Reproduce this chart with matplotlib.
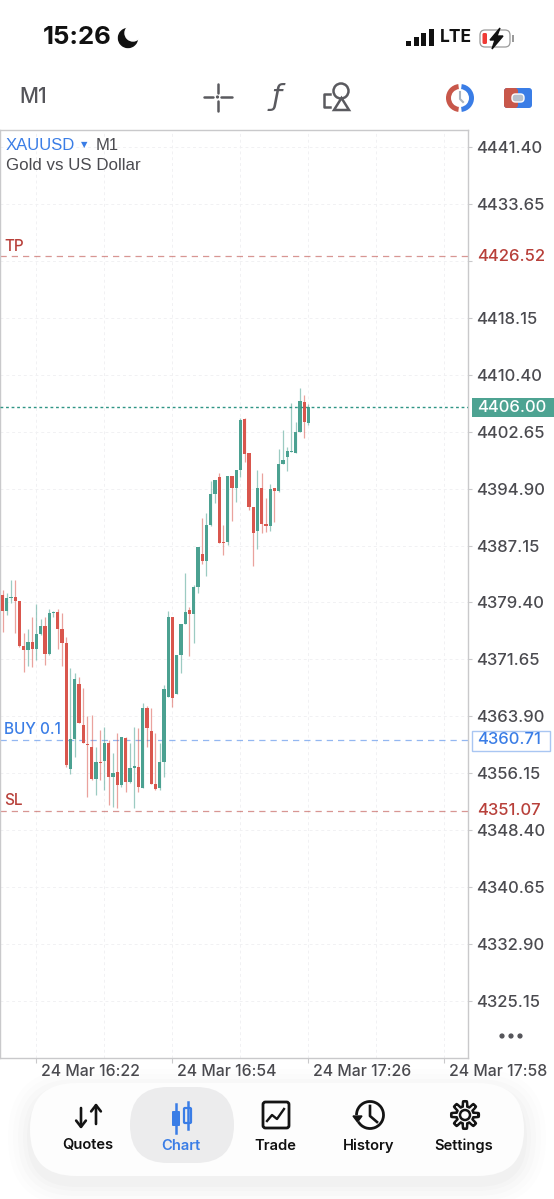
import numpy as np
import matplotlib
matplotlib.use('Agg')
import matplotlib.pyplot as plt
from matplotlib.patches import Circle, FancyBboxPatch, Polygon, Rectangle, Wedge, Arc
from matplotlib.transforms import ScaledTranslation

# candle data, one row per minute
opens = [4380.46, 4378.19, 4379.96, 4380.10, 4379.65, 4373.48, 4372.93, 4374.02, 4373.07, 4375.11,
         4376.20, 4372.39, 4377.92, 4378.10, 4375.75, 4373.84, 4356.78, 4360.86, 4368.35, 4362.77,
         4360.14, 4359.78, 4355.33, 4357.69, 4357.78, 4360.23, 4355.69, 4356.33, 4354.56, 4360.91,
         4354.97, 4356.87, 4357.05, 4354.15, 4365.04, 4361.95, 4354.69, 4354.10, 4357.73, 4366.58,
         4377.47, 4366.90, 4372.25, 4376.42, 4378.37, 4377.79, 4381.46, 4386.00, 4385.00, 4389.94,
         4394.16, 4396.52, 4387.63, 4387.59, 4396.66, 4394.98, 4397.43, 4404.33, 4399.70, 4392.44,
         4389.17, 4395.03, 4390.08, 4389.85, 4394.93, 4394.57, 4398.25, 4399.15, 4399.93, 4399.79,
         4402.56, 4406.64, 4403.87]
highs = [4381.10, 4380.65, 4382.46, 4382.46, 4379.65, 4375.29, 4375.75, 4377.38, 4379.19, 4377.11,
         4377.47, 4378.47, 4378.29, 4378.47, 4377.92, 4374.75, 4370.44, 4369.85, 4369.30, 4367.71,
         4363.95, 4364.09, 4359.78, 4362.04, 4362.50, 4360.68, 4358.87, 4361.59, 4361.05, 4361.05,
         4360.23, 4362.50, 4362.27, 4365.76, 4365.31, 4365.00, 4361.59, 4360.23, 4368.17, 4378.29,
         4377.47, 4372.25, 4376.42, 4383.37, 4378.83, 4381.78, 4386.99, 4390.85, 4391.53, 4395.98,
         4396.07, 4396.98, 4389.94, 4396.66, 4396.66, 4397.43, 4404.46, 4404.46, 4399.70, 4392.44,
         4397.43, 4396.98, 4393.57, 4395.52, 4394.93, 4400.24, 4402.87, 4400.61, 4406.59, 4404.01,
         4408.55, 4407.64, 4406.41]
lows = [4375.43, 4377.70, 4379.28, 4375.29, 4373.39, 4369.98, 4370.76, 4370.57, 4371.57, 4374.97,
        4370.89, 4372.25, 4377.47, 4373.02, 4370.76, 4357.05, 4356.05, 4358.41, 4362.95, 4360.23,
        4352.97, 4355.24, 4353.20, 4355.24, 4353.88, 4351.84, 4351.61, 4351.38, 4354.33, 4353.65,
        4354.78, 4351.38, 4353.65, 4354.10, 4359.78, 4354.69, 4353.88, 4353.88, 4355.69, 4366.49,
        4365.13, 4366.90, 4369.80, 4376.40, 4372.11, 4373.93, 4380.64, 4384.64, 4383.00, 4389.85,
        4392.98, 4387.45, 4385.86, 4387.22, 4390.53, 4393.12, 4396.43, 4398.56, 4391.99, 4384.36,
        4386.63, 4388.81, 4389.04, 4389.17, 4390.40, 4394.48, 4398.25, 4397.34, 4399.93, 4399.70,
        4402.56, 4401.74, 4403.56]
closes = [4378.19, 4379.96, 4380.10, 4379.56, 4373.48, 4372.93, 4374.02, 4373.07, 4375.11, 4376.20,
          4372.39, 4378.01, 4378.10, 4375.84, 4373.84, 4357.23, 4360.86, 4368.94, 4363.04, 4360.32,
          4359.96, 4355.33, 4357.73, 4357.55, 4360.23, 4355.69, 4356.24, 4354.56, 4361.05, 4354.97,
          4356.87, 4357.10, 4354.33, 4365.04, 4362.32, 4354.69, 4353.97, 4357.73, 4367.62, 4377.47,
          4366.35, 4372.25, 4376.42, 4378.15, 4377.83, 4381.46, 4386.99, 4385.00, 4389.94, 4394.16,
          4396.07, 4387.54, 4387.45, 4396.66, 4394.98, 4397.43, 4404.24, 4399.61, 4392.39, 4388.90,
          4395.03, 4390.08, 4389.85, 4394.84, 4394.53, 4398.25, 4398.79, 4399.97, 4400.06, 4402.56,
          4406.78, 4403.92, 4406.00]

price_ticks = [4441.40, 4433.65, 4425.90, 4418.15, 4410.40, 4402.65, 4394.90, 4387.15,
               4379.40, 4371.65, 4363.90, 4356.15, 4348.40, 4340.65, 4332.90, 4325.15]
price_labels = ['4441.40', '4433.65', '', '4418.15', '4410.40', '4402.65', '4394.90', '4387.15',
                '4379.40', '4371.65', '4363.90', '4356.15', '4348.40', '4340.65', '4332.90', '4325.15']
time_labels = ['24 Mar 16:22', '24 Mar 16:54', '24 Mar 17:26', '24 Mar 17:58']
tp_price = 4426.52
sl_price = 4351.07
buy_price = 4360.71
last_price = 4406.00
tab_names = ['Quotes', 'Chart', 'Trade', 'History', 'Settings']

GREEN = '#4ba191'
RED = '#d9564d'
DARKRED = '#b8403a'
BLUE = '#3a7de6'
GREY = '#4b4b50'
plt.rcParams['font.family'] = ['Inter', 'DejaVu Sans']

fig = plt.figure(figsize=(5.54, 11.99), dpi=100, facecolor='white')
W, H = 554, 1199

# main chart, x is minutes after 16:22
ax = fig.add_axes([0, (H - 1058) / H, 468 / W, 928 / H])
minutes = np.arange(len(opens)) - 8
ax.set_xlim(-36.5 / 4.25, (468 - 36.5) / 4.25)
ax.set_ylim(4441.40 - (1058 - 147) / 7.346, 4441.40 + 17 / 7.346)

for spine in ax.spines.values():
    spine.set_color('#c9c9cb')
    spine.set_linewidth(1.0)

ax.set_axisbelow(True)
for m in np.arange(0, 112, 16):
    ax.axvline(m, color='#f1f1f3', lw=0.7, ls=(0, (3, 3)), zorder=0)
for p in price_ticks:
    ax.axhline(p, color='#f1f1f3', lw=0.7, ls=(0, (3, 3)), zorder=0)

colors = [GREEN if c >= o else RED for o, c in zip(opens, closes)]
ax.vlines(minutes, lows, highs, colors=colors, lw=0.9, alpha=0.55, zorder=2)
bottoms = np.minimum(opens, closes)
heights = np.maximum(np.abs(np.array(closes) - np.array(opens)), 0.15)
ax.bar(minutes, heights, bottom=bottoms, width=0.8, color=colors, zorder=3)

ax.axhline(tp_price, color=DARKRED, lw=0.9, alpha=0.55, ls=(0, (5, 4)), zorder=1)
ax.axhline(sl_price, color=DARKRED, lw=0.9, alpha=0.55, ls=(0, (5, 4)), zorder=1)
ax.axhline(buy_price, color=BLUE, lw=0.9, alpha=0.55, ls=(0, (5, 4)), zorder=1)
ax.axhline(last_price, color='#2f9585', lw=1.0, ls=(0, (2, 2)), zorder=4)

ax.yaxis.tick_right()
ax.set_yticks(price_ticks)
ax.set_yticklabels(price_labels, weight='medium')
ax.tick_params(axis='y', length=3, width=0.8, color='#c9c9cb', labelcolor=GREY, labelsize=12, pad=2.5)
ax.set_xticks([0, 32, 64, 96])
ax.set_xticklabels(time_labels, weight='medium')
ax.tick_params(axis='x', length=3.5, width=0.8, color='#c9c9cb', labelcolor=GREY, labelsize=11.4, pad=1)
offset = ScaledTranslation(4.5 / 100, 0, fig.dpi_scale_trans)
for lab in ax.get_xticklabels():
    lab.set_ha('left')
    lab.set_transform(lab.get_transform() + offset)

level_x = -8.59 + 4 / 4.25
ax.text(level_x, tp_price + 1.4, 'TP', color=DARKRED, fontsize=11, weight='medium', va='center')
ax.text(level_x, buy_price + 1.4, 'BUY 0.1', color=BLUE, fontsize=11, weight='medium', va='center', zorder=5)
ax.text(level_x, sl_price + 1.4, 'SL', color=DARKRED, fontsize=11, weight='medium', va='center')

# everything else sits on a pixel overlay
ov = fig.add_axes([0, 0, 1, 1], zorder=5)
ov.set_xlim(0, W)
ov.set_ylim(H, 0)
ov.axis('off')
ov.patch.set_alpha(0)


def price_y(p):
    return 147 + (4441.40 - p) * 7.346


ov.add_patch(Rectangle((472, 398), 82, 19, color='#4da392', lw=0))
ov.text(477, price_y(last_price), '%.2f' % last_price, color='white', fontsize=12, weight='medium', va='center')
ov.add_patch(Rectangle((472, 730.5), 78, 20, fc='white', ec='#a9c6f2', lw=1))
ov.text(477, price_y(buy_price), '%.2f' % buy_price, color=BLUE, fontsize=12, weight='medium', va='center')
ov.text(477, price_y(tp_price), '%.2f' % tp_price, color=DARKRED, fontsize=12, weight='medium', va='center')
ov.text(477, price_y(sl_price), '%.2f' % sl_price, color=DARKRED, fontsize=12, weight='medium', va='center')
for dx in (502, 511, 520):
    ov.add_patch(Circle((dx, 1036), 1.9, color='#55555a'))

# chart title
ov.text(6, 145, 'XAUUSD', color=BLUE, fontsize=12, family='Liberation Sans', va='center')
ov.text(81, 145, '▼', color=BLUE, fontsize=6, family='DejaVu Sans', va='center')
ov.text(96, 145, 'M1', color=GREY, fontsize=12, family='Liberation Sans', va='center')
ov.text(6, 166, 'Gold vs US Dollar', color=GREY, fontsize=12.2, family='Liberation Sans', va='center')

# status bar
ov.text(43, 38, '15:26', color='#111111', fontsize=18.5, weight='bold', va='center')
ov.add_patch(Wedge((128, 38), 9.5, 0, 360, color='#111111'))
ov.add_patch(Circle((133, 33), 8, color='white'))
for i, h in enumerate([5, 9, 13, 17]):
    ov.add_patch(Rectangle((406 + i * 7.6, 46 - h), 5, h, color='#111111', lw=0))
ov.text(440, 38, 'LTE', color='#111111', fontsize=12.5, weight='bold', va='center')
ov.add_patch(FancyBboxPatch((480, 30), 30, 17, boxstyle='round,pad=0,rounding_size=5', fc='white', ec='#9a9a9a', lw=0.9))
ov.add_patch(FancyBboxPatch((482.5, 33), 4.5, 11, boxstyle='round,pad=0,rounding_size=1.5', fc='#ef3b36', lw=0))
ov.add_patch(Polygon([[500, 28], [490, 40], [495, 40], [492, 49], [503, 36], [497, 36]], color='#111111'))
ov.add_patch(Rectangle((512, 35), 1.5, 7, color='#9a9a9a', lw=0))

# toolbar
ov.text(19, 97, 'M1', color='#55555a', fontsize=15, weight='medium', va='center')
ico = '#5a5a5f'
for x0, y0, x1, y1 in [(204, 97, 213, 97), (221, 97, 232, 97), (217.5, 84, 217.5, 93), (217.5, 101, 217.5, 111)]:
    ov.plot([x0, x1], [y0, y1], color=ico, lw=1.8, solid_capstyle='round')
ov.add_patch(Circle((217.5, 97), 0.9, color=ico))
ov.text(277, 97, 'ƒ', color=ico, fontsize=21, family='DejaVu Sans', ha='center', va='center', style='italic')
ov.add_patch(Circle((341, 91), 7.5, fc='none', ec=ico, lw=1.8))
ov.add_patch(Polygon([[334, 110], [349, 110], [341.5, 98]], closed=True, fc='white', ec=ico, lw=1.8))
ov.plot([330, 324, 324, 330], [94, 94, 107, 107], color=ico, lw=1.8)
ov.add_patch(Wedge((460, 98), 14, 97, 263, width=5, color='#c8574a', lw=0))
ov.add_patch(Wedge((460, 98), 14, 277, 83, width=5, color=BLUE, lw=0))
ov.plot([460, 460, 463], [92, 99, 102], color='#aab4c0', lw=1.5)
ov.add_patch(FancyBboxPatch((504, 88), 28, 20, boxstyle='round,pad=0,rounding_size=3', fc=BLUE, lw=0))
ov.add_patch(FancyBboxPatch((504, 88), 14, 20, boxstyle='round,pad=0,rounding_size=3', fc='#c8574a', lw=0))
ov.add_patch(FancyBboxPatch((512, 94), 12, 8, boxstyle='round,pad=0,rounding_size=3.5', fc='#b6c0cc', ec='white', lw=1))

# tab bar with soft shadow
for grow, alpha in [(22, 0.006), (17, 0.008), (12, 0.010), (7, 0.012), (3, 0.014)]:
    ov.add_patch(FancyBboxPatch((30 - grow, 1083 - grow + 8), 494 + 2 * grow, 93 + 2 * grow,
                                boxstyle='round,pad=0,rounding_size=%d' % (46 + grow),
                                fc='black', alpha=alpha, lw=0))
ov.add_patch(FancyBboxPatch((30, 1083), 494, 93, boxstyle='round,pad=0,rounding_size=46', fc='#fdfdfd', lw=0))
ov.add_patch(FancyBboxPatch((130, 1087), 104, 76, boxstyle='round,pad=0,rounding_size=38', fc='#ececed', lw=0))

tab_x = [88, 181, 275, 369, 464]
for name, tx in zip(tab_names, tab_x):
    ov.text(tx, 1145.5, name, color=BLUE if name == 'Chart' else '#111111', fontsize=10.6,
            weight='semibold', ha='center', va='center')

ink = '#141414'
# quotes icon
ov.annotate('', xy=(81, 1129), xytext=(81, 1108), arrowprops=dict(arrowstyle='->,head_width=0.35,head_length=0.45', color=ink, lw=1.9, shrinkA=0, shrinkB=0))
ov.annotate('', xy=(96, 1103), xytext=(96, 1124), arrowprops=dict(arrowstyle='->,head_width=0.35,head_length=0.45', color=ink, lw=1.9, shrinkA=0, shrinkB=0))
# chart icon
ov.plot([176, 176], [1104, 1133], color=BLUE, lw=1.8)
ov.add_patch(FancyBboxPatch((172, 1111), 8, 15, boxstyle='round,pad=0,rounding_size=1', fc=BLUE, lw=0))
ov.plot([187.5, 187.5], [1102, 1129], color=BLUE, lw=1.8)
ov.add_patch(FancyBboxPatch((184, 1108), 7, 15, boxstyle='round,pad=0,rounding_size=1', fc='#ececed', ec=BLUE, lw=1.6))
# trade icon
ov.add_patch(FancyBboxPatch((263, 1102), 26, 26, boxstyle='round,pad=0,rounding_size=2.5', fc='none', ec=ink, lw=2))
ov.plot([267, 272, 277, 284], [1121, 1115, 1119, 1109], color=ink, lw=1.7)
# history icon
ov.add_patch(Arc((370, 1115), 27, 27, theta1=-180, theta2=150, color=ink, lw=2))
ov.add_patch(Polygon([[353, 1116], [362, 1116], [357.5, 1122]], color=ink))
ov.plot([370, 370, 377], [1106, 1116, 1122], color=ink, lw=1.9)
# settings icon
ang = np.linspace(0, 2 * np.pi, 241)
rad = 11.2 + 2.6 * np.clip(np.cos(8 * ang) * 2.2, -1, 1)
ov.plot(465 + rad * np.cos(ang), 1115 + rad * np.sin(ang), color=ink, lw=1.8)
ov.add_patch(Circle((465, 1115), 5, fc='none', ec=ink, lw=1.8))

fig.savefig('out.png', dpi=100, facecolor='white')
plt.close(fig)
